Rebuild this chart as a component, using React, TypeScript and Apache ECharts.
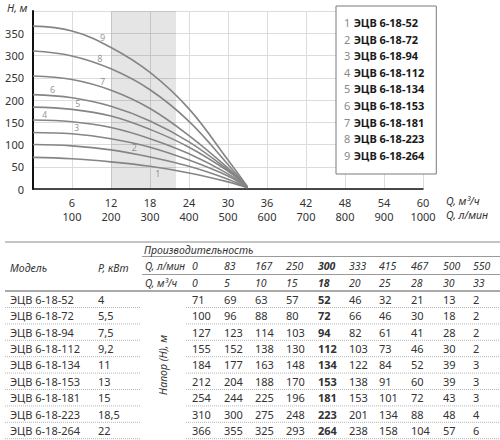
import React, { useEffect, useRef } from "react";
import * as echarts from "echarts";

const models = [
  "ЭЦВ 6-18-52", "ЭЦВ 6-18-72", "ЭЦВ 6-18-94", "ЭЦВ 6-18-112", "ЭЦВ 6-18-134",
  "ЭЦВ 6-18-153", "ЭЦВ 6-18-181", "ЭЦВ 6-18-223", "ЭЦВ 6-18-264",
];
const powers = ["4", "5,5", "7,5", "9,2", "11", "13", "15", "18,5", "22"];

// table
const qLpm = [0, 83, 167, 250, 300, 333, 415, 467, 500, 550];
const qM3h = [0, 5, 10, 15, 18, 20, 25, 28, 30, 33];
const head1 = [71, 69, 63, 57, 52, 46, 32, 21, 13, 2];
const head2 = [100, 96, 88, 80, 72, 66, 46, 30, 18, 2];
const head3 = [127, 123, 114, 103, 94, 82, 61, 41, 28, 2];
const head4 = [155, 152, 138, 130, 112, 103, 73, 46, 30, 2];
const head5 = [184, 177, 163, 148, 134, 122, 84, 52, 39, 3];
const head6 = [212, 204, 188, 170, 153, 138, 91, 60, 39, 3];
const head7 = [254, 244, 225, 196, 181, 153, 101, 72, 43, 3];
const head8 = [310, 300, 275, 248, 223, 201, 134, 88, 48, 4];
const head9 = [366, 355, 325, 293, 264, 238, 158, 104, 57, 6];
const heads = [head1, head2, head3, head4, head5, head6, head7, head8, head9];

// graph curves at the grid lines
const curveQ = [0, 6, 12, 18, 24, 30, 33];
const curve1 = [71, 68, 61, 51, 36, 16, 3];
const curve2 = [100, 97, 88, 72, 51, 22, 3];
const curve3 = [127, 124, 113, 94, 65, 29, 3];
const curve4 = [155, 151, 138, 113, 79, 34, 3];
const curve5 = [184, 179, 164, 134, 94, 40, 4];
const curve6 = [212, 205, 186, 153, 106, 43, 4];
const curve7 = [254, 246, 222, 181, 120, 47, 4];
const curve8 = [310, 299, 270, 223, 152, 55, 4];
const curve9 = [366, 355, 318, 262, 180, 65, 5];
const curves = [curve1, curve2, curve3, curve4, curve5, curve6, curve7, curve8, curve9];

const boldColumn = 4; // Q = 18 m3/h, 300 l/min
const bandRange = [12, 22];
const curveLabelQ = [19.2, 15.6, 6.7, 1.8, 6.9, 3.0, 10.7, 10.3, 10.7];
const xTicks = { min: 0, max: 60, interval: 6 };
const yTicks = { min: 0, max: 400, interval: 50 };

const FONT = "'Noto Sans', 'Open Sans', sans-serif";

function interp(ys: number[], q: number) {
  const xs = curveQ;
  for (let j = 0; j < xs.length - 1; j++) {
    if (q >= xs[j] && q <= xs[j + 1]) {
      const t = (q - xs[j]) / (xs[j + 1] - xs[j]);
      return ys[j] + t * (ys[j + 1] - ys[j]);
    }
  }
  return ys[ys.length - 1];
}

function txt(x: number, y: number, text: string, extra: any = {}) {
  return {
    type: "text",
    x,
    y,
    silent: true,
    style: {
      text,
      fill: extra.fill || "#333",
      fontSize: extra.fontSize || 11,
      fontFamily: FONT,
      fontStyle: extra.italic ? "italic" : "normal",
      fontWeight: extra.bold ? "bold" : "normal",
      align: extra.align || "left",
      verticalAlign: "middle",
      textAlign: extra.align || "left",
      textVerticalAlign: "middle",
    },
    ...(extra.rotation ? { rotation: extra.rotation } : {}),
  };
}

function hline(x1: number, x2: number, y: number, color: string, width = 1, dash?: number[]) {
  return {
    type: "line",
    silent: true,
    shape: { x1, y1: y, x2, y2: y },
    style: { stroke: color, lineWidth: width, ...(dash ? { lineDash: dash } : {}) },
  };
}

export default function App() {
  const ref = useRef<HTMLDivElement>(null);
  useEffect(() => {
    document.body.style.margin = "0";
    const chart = echarts.init(ref.current!, null, { renderer: "svg" });

    const lineSeries: any[] = models.map((m, i) => ({
      type: "line",
      name: m,
      data: curveQ.map((q, k) => [q, curves[i][k]]),
      smooth: 0.4,
      showSymbol: false,
      silent: true,
      lineStyle: { color: "#858585", width: 1.6 },
      itemStyle: { color: "#858585" },
      z: 3,
      ...(i === 0
        ? {
            markArea: {
              silent: true,
              itemStyle: { color: "rgba(0,0,0,0.1)" },
              data: [[{ xAxis: bandRange[0] }, { xAxis: bandRange[1] }]],
            },
          }
        : {}),
    }));

    const labelSeries = {
      type: "scatter",
      name: "labels",
      symbolSize: 0,
      silent: true,
      z: 4,
      data: curveLabelQ.map((q, i) => ({
        value: [q, interp(curves[i], q)],
        label: { position: i === 0 ? "bottom" : "top", distance: i === 0 ? 1 : 2 },
      })),
      label: {
        show: true,
        formatter: (p: any) => String(p.dataIndex + 1),
        color: "#7a7a7a",
        fontSize: 9,
        fontFamily: FONT,
      },
    };

    const colX = [192, 224, 255, 286, 318, 349, 379, 411, 443, 473];
    const rowY0 = 299.3;
    const rowH = 16.4;
    const g: any[] = [];
    g.push(txt(7, 8, "H, м", { italic: true, fontSize: 10.5 }));
    g.push(txt(446, 201, "Q, м³/ч", { italic: true, fontSize: 10.5 }));
    g.push(txt(446, 215, "Q, л/мин", { italic: true, fontSize: 10.5 }));

    g.push(hline(5, 500, 242, "#8a8a8a", 1));
    g.push(hline(142, 500, 256.5, "#9a9a9a", 1));
    g.push(hline(142, 500, 274.5, "#9a9a9a", 1));
    g.push(hline(5, 500, 291, "#555", 1));
    g.push(txt(144, 250, "Производительность", { italic: true, fontSize: 10.5 }));
    g.push(txt(10, 268, "Модель", { italic: true, fontSize: 10.5 }));
    g.push(txt(98, 268, "P, кВт", { italic: true, fontSize: 10.5 }));
    g.push(txt(145, 266, "Q, л/мин", { italic: true, fontSize: 10 }));
    g.push(txt(145, 283, "Q, м³/ч", { italic: true, fontSize: 10 }));
    qLpm.forEach((v, j) => g.push(txt(colX[j], 266, String(v), { italic: true, bold: j === boldColumn, fontSize: 10.5 })));
    qM3h.forEach((v, j) => g.push(txt(colX[j], 283, String(v), { italic: true, bold: j === boldColumn, fontSize: 10.5 })));
    models.forEach((m, i) => {
      const y = rowY0 + i * rowH;
      g.push(txt(10, y, m));
      g.push(txt(98, y, powers[i]));
      heads[i].forEach((v, j) => g.push(txt(colX[j], y, String(v), { bold: j === boldColumn })));
      const ly = y + rowH / 2;
      g.push(hline(5, 141, ly, "#b5b5b5", 1, [1, 1]));
      g.push(hline(186, 500, ly, "#b5b5b5", 1, [1, 1]));
    });
    g.push(txt(163, rowY0 + 4 * rowH, "Напор (Н), м", { italic: true, align: "center", rotation: Math.PI / 2, fontSize: 10.5 }));

    chart.setOption({
      animation: false,
      grid: { left: 33, top: 11, right: 77, bottom: 251 },
      legend: {
        data: models,
        orient: "vertical",
        left: 336,
        top: 6,
        icon: "none",
        itemWidth: 0,
        itemHeight: 0,
        itemGap: 4.6,
        padding: [10.5, 12, 12.7, 3],
        backgroundColor: "#fff",
        borderColor: "#7a7a7a",
        borderWidth: 1,
        selectedMode: false,
        z: 10,
        formatter: (name: string) => `{n|${models.indexOf(name) + 1}} {b|${name}}`,
        textStyle: {
          rich: {
            n: { color: "#8a8a8a", fontSize: 11, fontFamily: FONT, lineHeight: 13 },
            b: { color: "#1a1a1a", fontSize: 11, fontWeight: "bold", fontFamily: FONT, lineHeight: 13 },
          },
        },
      },
      xAxis: {
        type: "value",
        ...xTicks,
        axisLine: { lineStyle: { color: "#111", width: 1.5 } },
        axisTick: { show: false },
        splitLine: { lineStyle: { color: "#dcdcdc", width: 1 } },
        axisLabel: {
          showMinLabel: false,
          margin: 6,
          formatter: (v: number) => `{a|${v}}\n{b|${Math.round((v * 1000) / 60)}}`,
          rich: {
            a: { fontSize: 11, color: "#333", fontFamily: FONT, lineHeight: 14 },
            b: { fontSize: 11, color: "#333", fontFamily: FONT, lineHeight: 14 },
          },
        },
      },
      yAxis: {
        type: "value",
        ...yTicks,
        axisLine: { show: true, lineStyle: { color: "#111", width: 2 } },
        axisTick: { show: false },
        splitLine: { lineStyle: { color: "#dcdcdc", width: 1 } },
        axisLabel: {
          showMaxLabel: false,
          margin: 9,
          fontSize: 11,
          color: "#333",
          fontFamily: FONT,
        },
      },
      series: [...lineSeries, labelSeries],
      graphic: g,
    });
    return () => chart.dispose();
  }, []);
  return <div ref={ref} style={{ width: 500, height: 440 }} />;
}
